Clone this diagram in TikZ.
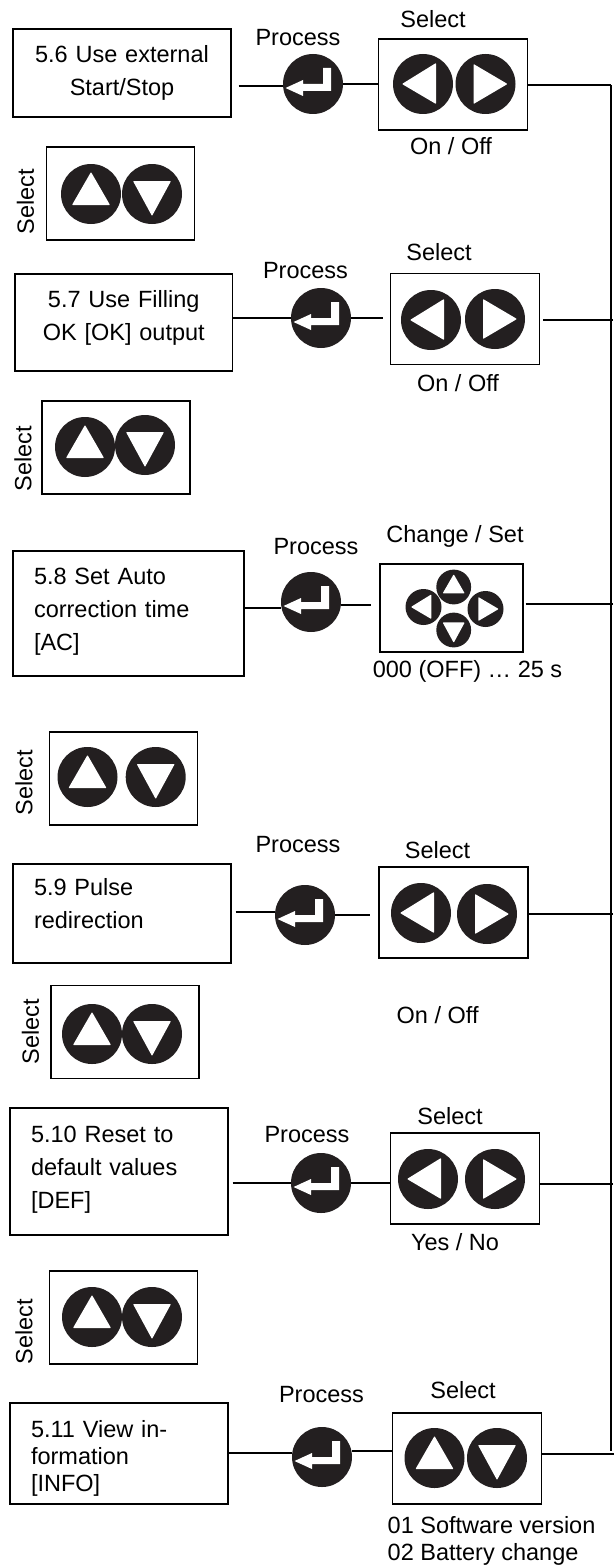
\documentclass[tikz,border=0pt]{standalone}
\usepackage{fontspec}
\setmainfont{Liberation Sans}
\usetikzlibrary{positioning}
\definecolor{keyblack}{HTML}{231F20}
\newcommand{\keyFont}{\fontsize{23.5}{33}\selectfont}
\tikzset{
	menubox/.style 2 args={draw, line width=1.2pt, inner xsep=21pt, inner ysep=0pt, minimum width=#1pt, minimum height=#2pt, text width=#1pt-42pt},
	selbox/.style={draw, line width=1.2pt, minimum width=149pt, minimum height=91pt},
	padbox/.style={draw, line width=1.2pt, minimum width=148pt, minimum height=93pt},
	keybtn/.style={circle, fill=keyblack, inner sep=0pt},
	caption/.style={inner sep=0pt},
	wire/.style={line width=1.3pt}
}
% one round key with its white triangle or return sign
\newcommand{\keyUp}[3][1]{\node[keybtn, minimum size=#1*60pt] (#2) at (#3) {};
	\fill[white, rounded corners=.7pt, shift={(#2.center)}, scale=#1] (-19,11) -- (19,11) -- (0,-22) -- cycle;}
\newcommand{\keyDown}[3][1]{\node[keybtn, minimum size=#1*60pt] (#2) at (#3) {};
	\fill[white, rounded corners=.7pt, shift={(#2.center)}, scale=#1] (-19,-13) -- (19,-13) -- (0,22) -- cycle;}
\newcommand{\keyLeft}[3][1]{\node[keybtn, minimum size=#1*60pt] (#2) at (#3) {};
	\fill[white, rounded corners=.7pt, shift={(#2.center)}, scale=#1] (-21,0) -- (13,-21) -- (13,20) -- cycle;}
\newcommand{\keyRight}[3][1]{\node[keybtn, minimum size=#1*60pt] (#2) at (#3) {};
	\fill[white, rounded corners=.7pt, shift={(#2.center)}, scale=#1] (22,0) -- (-12,-20) -- (-12,20) -- cycle;}
\newcommand{\keyEnter}[2]{\node[keybtn, minimum size=60pt] (#1) at (#2) {};
	\fill[white, shift={(#1.center)}] (-27.5,4) -- (-10,-4) -- (-10,0) -- (10,0) -- (10,-16) -- (18,-16) -- (18,7) -- (-10,7) -- (-10,12) -- cycle;}
\newcommand{\liftText}[1]{\rule[-#1]{0pt}{1pt}}

\begin{document}
\begin{tikzpicture}[x=1pt, y=-1pt, every node/.style={font=\keyFont}]
	\useasboundingbox (0,0) rectangle (614,1568);
	\coordinate (bustop) at (611,85);
	\coordinate (busend) at (611,1451);
	\draw[wire] (bustop) -- (busend);

	%5.6
	\node[menubox={218}{88}, align=center] (menu6) at (122,73) {5.6 Use external\\Start/Stop};
	\node[caption] (proc6) at (298,38) {Process};
	\keyEnter{enter6}{313,84}
	\node[selbox] (sel6) at (453.25,84.5) {};
	\node[caption] (seltop6) at (433,19) {Select};
	\keyLeft{left6}{423,84}
	\keyRight{right6}{485.5,84}
	\node[caption] (value6) at (451,146) {On / Off};
	\draw[wire, shorten <=7pt] ([yshift=-2pt]menu6.east |- enter6.west) -- ([yshift=-2pt]enter6.west);
	\draw[wire] (enter6.east) -- (enter6.east -| sel6.west);
	\draw[wire] (sel6.east |- bustop) -- (bustop);
	\node[padbox] (pad6) at (120.75,193.5) {};
	\node[caption, rotate=90] (padsel6) at (25.5,202) {Select};
	\keyUp{up6}{91,194}
	\keyDown{down6}{152,194}

	%5.7
	\node[menubox={217.5}{97}, align=center] (menu7) at (123.75,322.5) {5.7 Use Filling\\OK [OK] output\liftText{14pt}};
	\node[caption] (proc7) at (305.5,271) {Process};
	\keyEnter{enter7}{321,318}
	\node[selbox] (sel7) at (465.25,319) {};
	\node[caption] (seltop7) at (439,252) {Select};
	\keyLeft{left7}{431,320}
	\keyRight{right7}{495,319}
	\node[caption] (value7) at (458,383) {On / Off};
	\coordinate (bus7) at (613,320);
	\draw[wire] (menu7.east |- enter7.west) -- (enter7.west);
	\draw[wire, shorten >=7pt] (enter7.east) -- (enter7.east -| sel7.west);
	\draw[wire, shorten <=3pt] (sel7.east |- bus7) -- (bus7);
	\node[padbox] (pad7) at (116,447.5) {};
	\node[caption, rotate=90] (padsel7) at (23,459) {Select};
	\keyUp{up7}{85,447}
	\keyDown{down7}{145,445}

	%5.8
	\node[menubox={231}{125}, align=left] (menu8) at (128.5,613.5) {5.8 Set Auto\\correction time\\{[AC]}\liftText{8pt}};
	\node[caption] (proc8) at (316,547) {Process};
	\keyEnter{enter8}{311,602}
	\node[draw, line width=1.2pt, minimum width=143pt, minimum height=88pt] (sel8) at (451.5,608) {};
	\node[caption] (seltop8) at (455,536) {Change / Set};
	\keyUp[0.58]{up8}{453.7,587}
	\keyLeft[0.6]{left8}{423.5,607}
	\keyRight[0.6]{right8}{485.5,609}
	\keyDown[0.58]{down8}{453.7,630}
	\node[caption] (value8) at (467.5,671) {000 (OFF) … 25 s};
	\coordinate (bus8) at (613,604);
	\draw[wire] ([yshift=-6pt]menu8.east |- enter8.west) -- ([yshift=-6pt]enter8.west);
	\draw[wire, shorten >=8pt] ([yshift=-3pt]enter8.east) -- ([yshift=-3pt]enter8.east -| sel8.west);
	\draw[wire, shorten <=2pt] (sel8.east |- bus8) -- (bus8);
	\node[padbox] (pad8) at (123.8,778.5) {};
	\node[caption, rotate=90] (padsel8) at (24,783) {Select};
	\keyUp{up8b}{87.5,777}
	\keyDown{down8b}{155.7,777}

	%5.9
	\node[menubox={218}{99}, align=left] (menu9) at (122,913.5) {5.9 Pulse\\redirection\liftText{21pt}};
	\node[caption] (proc9) at (298,845) {Process};
	\keyEnter{enter9}{305,915}
	\node[selbox] (sel9) at (453.5,912.5) {};
	\node[caption] (seltop9) at (437.6,850) {Select};
	\keyLeft{left9}{421,913}
	\keyRight{right9}{487,914}
	\node[caption] (value9) at (437.6,1015) {On / Off};
	\coordinate (bus9) at (613,914);
	\draw[wire, shorten <=4pt] ([yshift=3pt]menu9.east |- enter9.west) -- ([yshift=3pt]enter9.west);
	\draw[wire, shorten >=8pt] (enter9.east) -- (enter9.east -| sel9.west);
	\draw[wire] (sel9.east |- bus9) -- (bus9);
	\node[padbox] (pad9) at (125,1032) {};
	\node[caption, rotate=90] (padsel9) at (30.5,1032) {Select};
	\keyUp{up9}{92,1034}
	\keyDown{down9}{152,1034}

	%5.10
	\node[menubox={218}{127}, align=left] (menu10) at (119,1171.5) {5.10 Reset to\\default values\\{[DEF]}\liftText{9pt}};
	\node[caption] (proc10) at (307,1135) {Process};
	\keyEnter{enter10}{321,1183}
	\node[selbox] (sel10) at (465.25,1178.5) {};
	\node[caption] (seltop10) at (450,1116) {Select};
	\keyLeft{left10}{428,1179}
	\keyRight{right10}{495,1179}
	\node[caption] (value10) at (455,1242) {Yes / No};
	\coordinate (bus10) at (613,1184);
	\draw[wire, shorten <=4pt] (menu10.east |- enter10.west) -- (enter10.west);
	\draw[wire] (enter10.east) -- (enter10.east -| sel10.west);
	\draw[wire] (sel10.east |- bus10) -- (bus10);
	\node[padbox] (pad10) at (123.8,1317.5) {};
	\node[caption, rotate=90] (padsel10) at (24,1332) {Select};
	\keyUp{up10}{92,1317}
	\keyDown{down10}{152,1317}

	%5.11
	\node[menubox={218}{101}, align=left] (menu11) at (119,1453.5) {\rule{0pt}{26pt}5.11 View in-\\[-6pt]formation\\[-6pt]{[INFO]}};
	\node[caption] (proc11) at (321.5,1395) {Process};
	\keyEnter{enter11}{322,1457}
	\node[selbox] (sel11) at (467,1458.5) {};
	\node[caption] (seltop11) at (463,1390) {Select};
	\keyUp{up11}{434.5,1458}
	\keyDown{down11}{497,1458}
	\node[caption, align=left, anchor=west] (value11) at (387.5,1541) {01 Software version\\[-6pt]02 Battery change};
	\coordinate (bus11) at (614,1454);
	\draw[wire] ([yshift=4pt]menu11.east |- enter11.west) -- ([yshift=4pt]enter11.west);
	\draw[wire] ([yshift=6pt]enter11.east) -- ([yshift=6pt]enter11.east -| sel11.west);
	\draw[wire] (sel11.east |- bus11) -- (bus11);
\end{tikzpicture}
\end{document}
